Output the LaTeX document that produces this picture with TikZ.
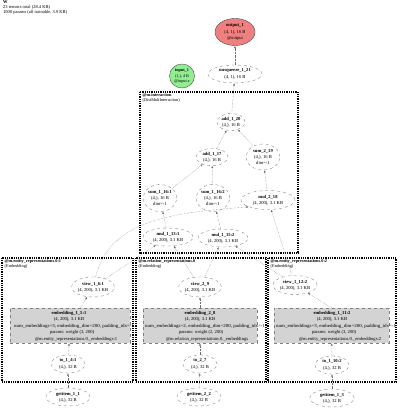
\documentclass[tikz,border=0pt]{standalone}
\usepackage{fontspec}
\setmainfont{Liberation Serif}
\usetikzlibrary{shapes.geometric,arrows.meta}

\definecolor{outred}{RGB}{240,128,128}
\definecolor{ingreen}{RGB}{144,238,144}
\definecolor{embgray}{RGB}{211,211,211}
\definecolor{edgegray}{RGB}{110,110,110}

\tikzset{
  every node/.style={font=\fontsize{4.6}{6.2}\selectfont, align=center},
  op/.style={ellipse, draw=gray, dashed, line width=0.35pt, inner sep=0pt},
  io/.style={ellipse, draw=black!70, line width=0.4pt, inner sep=0pt},
  embbox/.style={rectangle, draw=gray, dashed, fill=embgray, line width=0.35pt, inner sep=0pt, minimum height=35pt},
  txt/.style={inner sep=0pt},
  cluster/.style={draw=black, line width=2pt, dash pattern=on 1pt off 0.8pt},
  clab/.style={anchor=north west, inner sep=0pt, font=\fontsize{4.3}{5.0}\selectfont, align=left},
  conn/.style={draw=edgegray, line width=0.4pt, densely dotted, -{Latex[length=2.4pt,width=2pt]}},
}

\begin{document}
\begin{tikzpicture}[x=1pt,y=-1pt]
\useasboundingbox (0,0) rectangle (400,411);

% title
\node[clab, font=\fontsize{4.5}{5.0}\selectfont] (title) at (3,0.8) {\textbf{W}\\23 tensors total (28.4 KB)\\1000 params (all trainable, 3.9 KB)};

% clusters
\draw[cluster] (140,92) rectangle (298,253);
\node[clab] (labint) at (142.5,93.5) {\textbf{@m.interaction}\\(DistMultInteraction)};
\draw[cluster] (2,258) rectangle (133,382);
\node[clab] (labent1) at (4.5,259.5) {\textbf{@m.entity\_representations.0:1}\\(Embedding)};
\draw[cluster] (136,258) rectangle (266,382);
\node[clab] (labrel) at (138.5,259.5) {\textbf{@m.relation\_representations.0}\\(Embedding)};
\draw[cluster] (268,258) rectangle (396,382);
\node[clab] (labent2) at (270.5,259.5) {\textbf{@m.entity\_representations.0:2}\\(Embedding)};

% top nodes
\node[io, fill=outred, minimum width=40pt, minimum height=27pt] (out) at (235,32) {\textbf{output\_1}\\(4, 1), 16 B\\@output};
\node[io, fill=ingreen, minimum width=25pt, minimum height=24pt, font=\fontsize{4.2}{5.6}\selectfont] (in) at (182,76) {\textbf{input\_1}\\(1,), 4 B\\@input.x};
\node[op, minimum width=54pt, minimum height=18pt] (unsq) at (235,74) {\textbf{unsqueeze\_1\_21}\\(4, 1), 16 B};

% interaction nodes
\node[op, minimum width=28pt, minimum height=17pt] (add20) at (231,122) {\textbf{add\_1\_20}\\(4,), 16 B};
\node[op, minimum width=32pt, minimum height=17pt] (add17) at (212,157) {\textbf{add\_1\_17}\\(4,), 16 B};
\node[op, minimum width=34pt, minimum height=26pt] (sum19) at (263,157) {\textbf{sum\_2\_19}\\(4,), 16 B\\dim=-1};
\node[op, minimum width=32pt, minimum height=27pt] (sum16a) at (160,198) {\textbf{sum\_1\_16:1}\\(4,), 16 B\\dim=-1};
\node[op, minimum width=31pt, minimum height=27pt] (sum16b) at (213,198) {\textbf{sum\_1\_16:2}\\(4,), 16 B\\dim=-1};
\node[op, minimum width=54pt, minimum height=19pt] (mul18) at (268,200) {\textbf{mul\_2\_18}\\(4, 200), 3.1 KB};
\node[op, minimum width=50pt, minimum height=18pt] (mul13) at (168,237) {\textbf{mul\_1\_13:1}\\(4, 200), 3.1 KB};
\node[op, minimum width=50pt, minimum height=18pt] (mul15) at (223,238) {\textbf{mul\_1\_15:2}\\(4, 200), 3.1 KB};

% view nodes
\node[op, minimum width=42pt, minimum height=20pt] (view1) at (93,287) {\textbf{view\_1\_6:1}\\(4, 200), 3.1 KB};
\node[op, minimum width=40pt, minimum height=20pt] (view2) at (200,287) {\textbf{view\_2\_9}\\(4, 200), 3.1 KB};
\node[op, minimum width=44pt, minimum height=19pt] (view3) at (295,285) {\textbf{view\_1\_12:2}\\(4, 200), 3.1 KB};

% embedding boxes
\node[embbox, minimum width=120pt] (emb1) at (70,325.5) {};
\node[txt] (e1a) at (69,313) {\textbf{embedding\_1\_5:1}};
\node[txt] (e1b) at (69,319.5) {(4, 200), 3.1 KB};
\node[txt, anchor=west] (e1c) at (14,326) {\scalebox{1.08}[1]{num\_embeddings=3, embedding\_dim=200, padding\_idx=-1}};
\node[txt] (e1d) at (72,332.5) {params: weight (3, 200)};
\node[txt] (e1e) at (76,339) {@m.entity\_representations.0.\_embeddings:1};

\node[embbox, minimum width=114pt] (emb2) at (200,325.5) {};
\node[txt] (e2a) at (200,313) {\textbf{embedding\_2\_8}};
\node[txt] (e2b) at (200,319.5) {(4, 200), 3.1 KB};
\node[txt, anchor=west] (e2c) at (145,326) {\scalebox{1.08}[1]{num\_embeddings=2, embedding\_dim=200, padding\_idx=-1}};
\node[txt] (e2d) at (201,332.5) {params: weight (2, 200)};
\node[txt] (e2e) at (207,339) {@m.relation\_representations.0.\_embeddings};

\node[embbox, minimum width=115pt] (emb3) at (331.5,325.5) {};
\node[txt] (e3a) at (332,313) {\textbf{embedding\_1\_11:2}};
\node[txt] (e3b) at (332,319.5) {(4, 200), 3.1 KB};
\node[txt, anchor=west] (e3c) at (276,326) {\scalebox{1.08}[1]{num\_embeddings=3, embedding\_dim=200, padding\_idx=-1}};
\node[txt] (e3d) at (334,332.5) {params: weight (3, 200)};
\node[txt] (e3e) at (340,339) {@m.entity\_representations.0.\_embeddings:2};

% to and getitem nodes
\node[op, minimum width=34pt, minimum height=18pt] (to1) at (68,364) {\textbf{to\_1\_4:1}\\(4,), 32 B};
\node[op, minimum width=34pt, minimum height=18pt] (to2) at (200,364) {\textbf{to\_2\_7}\\(4,), 32 B};
\node[op, minimum width=34pt, minimum height=18pt] (to3) at (332,365) {\textbf{to\_1\_10:2}\\(4,), 32 B};
\node[op, minimum width=44pt, minimum height=18pt] (get1) at (68,397) {\textbf{getitem\_1\_1}\\(4,), 32 B};
\node[op, minimum width=44pt, minimum height=18pt] (get2) at (199,397) {\textbf{getitem\_2\_2}\\(4,), 32 B};
\node[op, minimum width=44pt, minimum height=18pt] (get3) at (332,398) {\textbf{getitem\_1\_3}\\(4,), 32 B};

% connectors
\draw[conn] (get1) -- (to1);
\draw[conn] (get2) -- (to2);
\draw[conn] (get3) -- (to3);
\draw[conn] (to1) -- (emb1);
\draw[conn] (to2) -- (emb2);
\draw[conn] (to3) -- (emb3);
\draw[conn] (emb1) -- (view1);
\draw[conn] (emb2) -- (view2);
\draw[conn] (emb3.north) -- (view3);

\draw[conn] (view1) -- (mul13);
\draw[conn] (view1) .. controls (110,220) and (170,213) .. (mul18.south west);
\draw[conn] (view2) -- (mul13);
\draw[conn] (view2) -- (mul15);
\draw[conn] (view3) -- (mul15);
\draw[conn] (view3) -- (mul18);

\draw[conn] (mul13) -- (sum16a);
\draw[conn] (mul15) -- (sum16b);
\draw[conn] (mul18) -- (sum19);
\draw[conn] (sum16a) -- (add17);
\draw[conn] (sum16b) -- (add17);
\draw[conn] (add17) -- (add20);
\draw[conn] (sum19) -- (add20);
\draw[conn] (add20) -- (unsq);
\draw[conn] (unsq) -- (out);
\end{tikzpicture}
\end{document}
